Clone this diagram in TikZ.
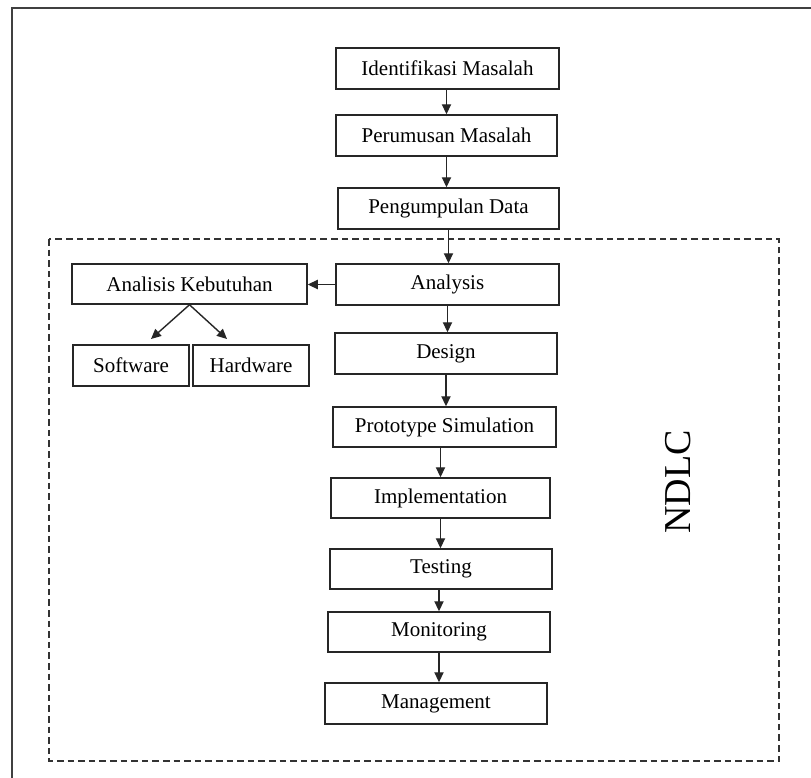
\documentclass[tikz,border=0pt]{standalone}
\usepackage{fontspec}
\setmainfont{Liberation Serif}
\usetikzlibrary{arrows.meta}
\begin{document}
\begin{tikzpicture}[x=0.5pt,y=-0.5pt,
  box/.style={draw=black!85, line width=0.75pt, rectangle, inner sep=0pt,
    font=\fontsize{10.5}{12}\selectfont},
  arr/.style={draw=black!85, line width=0.7pt, -{Triangle[length=5pt,width=4.6pt]}},
  frameline/.style={draw=black!75, line width=1pt},
  ndlcbox/.style={draw=black!80, line width=0.6pt, dash pattern=on 3.3pt off 2pt}]
\useasboundingbox (0,0) rectangle (811,778);
% outer frame (cropped)
\coordinate (fa) at (12,778);
\coordinate (fb) at (12,8);
\coordinate (fc) at (811,8);
\draw[frameline] (fa) -- (fb) -- (fc);
% dashed NDLC region
\coordinate (da) at (49,239);
\coordinate (db) at (779,761);
\draw[ndlcbox] (da) rectangle (db);
% boxes
\node[box, minimum width=111.5pt, minimum height=20.5pt] (id) at (447.5,68.5) {Identifikasi Masalah};
\node[box, minimum width=110.5pt, minimum height=20.5pt] (per) at (446.5,135.5) {Perumusan Masalah};
\node[box, minimum width=110.5pt, minimum height=20.5pt] (peng) at (448.5,208.5) {Pengumpulan Data};
\node[box, minimum width=111.5pt, minimum height=20.5pt] (ana) at (447.5,284.5) {Analysis};
\node[box, minimum width=117.5pt, minimum height=20pt] (keb) at (189.5,284) {Analisis Kebutuhan};
\node[box, minimum width=111pt, minimum height=20.5pt] (des) at (446,353.5) {Design};
\node[box, minimum width=58pt, minimum height=20.5pt] (sw) at (131,365.5) {Software};
\node[box, minimum width=58pt, minimum height=20.5pt] (hw) at (251,365.5) {Hardware};
\node[box, minimum width=111.5pt, minimum height=20pt] (pro) at (444.5,427) {Prototype Simulation};
\node[box, minimum width=109.5pt, minimum height=20pt] (imp) at (440.5,498) {Implementation};
\node[box, minimum width=111pt, minimum height=20pt] (tst) at (441,569) {Testing};
\node[box, minimum width=111pt, minimum height=20pt] (mon) at (439,632) {Monitoring};
\node[box, minimum width=111pt, minimum height=20.5pt] (man) at (436,703.5) {Management};
\node[rotate=90, font=\fontsize{19}{22}\selectfont, inner sep=0pt] (ndlc) at (678,482) {NDLC};
% arrows
\draw[arr] (id.south -| per.north) -- (per.north);
\draw[arr] (per.south) -- (per.south |- peng.north);
\draw[arr] (peng.south) -- (ana.north -| peng.south);
\draw[arr] (ana.south) -- (des.north -| ana.south);
\draw[arr] (des.south) -- (des.south |- pro.north);
\draw[arr] (pro.south -| imp.north) -- (imp.north);
\draw[arr] (imp.south) -- (imp.south |- tst.north);
\draw[arr] (tst.south -| mon.north) -- (mon.north);
\draw[arr] (mon.south) -- (mon.south |- man.north);
\draw[arr] (ana.west) -- (keb.east |- ana.west);
\coordinate (swt) at (151,339);
\coordinate (hwt) at (227,339);
\draw[arr] (keb.south) -- (swt);
\draw[arr] (keb.south) -- (hwt);
\end{tikzpicture}
\end{document}
